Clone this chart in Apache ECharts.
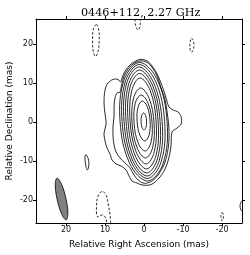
<!DOCTYPE html>
<html>
<head>
<meta charset="utf-8">
<script src="https://cdn.jsdelivr.net/npm/echarts@6/dist/echarts.min.js"></script>
<style>html,body{margin:0;padding:0;background:#fff}#c{width:250px;height:255px}</style>
</head>
<body>
<div id="c"></div>
<script>
// Axis ranges (mas) and tick labels
const xRange = [-25.1, 27.7];
const yRange = [-25.9, 26.4];
const xTicks = [-20, -10, 0, 10, 20];
const yTicks = [-20, -10, 0, 10, 20];

// Closed contour paths in (Relative RA, Relative Dec) mas
const ring1 = [[0.13,2.31],[-0.39,1.67],[-0.64,0.13],[-0.48,-1.41],[0.0,-2.05],[0.52,-1.41],[0.77,0.13],[0.61,1.67]];
const ring2 = [[0.45,5.38],[-0.83,3.88],[-1.54,0.26],[-1.28,-3.37],[-0.2,-4.87],[1.08,-3.37],[1.79,0.26],[1.53,3.88]];
const ring3 = [[0.77,6.92],[-1.02,4.82],[-2.05,-0.26],[-1.74,-5.34],[-0.26,-7.44],[1.53,-5.34],[2.56,-0.26],[2.25,4.82]];
const ring4 = [[0.9,8.72],[-1.28,6.09],[-2.56,-0.26],[-2.18,-6.6],[-0.38,-9.23],[1.8,-6.6],[3.08,-0.26],[2.7,6.09]];
const ring5 = [[1.03,11.28],[-1.57,8.05],[-3.08,0.26],[-2.65,-7.54],[-0.52,-10.77],[2.08,-7.54],[3.59,0.26],[3.16,8.05]];
const ring6 = [[1.16,12.44],[-1.83,8.86],[-3.59,0.2],[-3.1,-8.47],[-0.64,-12.05],[2.34,-8.47],[4.1,0.2],[3.62,8.86]];
const ring7 = [[1.22,13.33],[-2.14,9.46],[-4.1,0.13],[-3.5,-9.21],[-0.7,-13.08],[2.66,-9.21],[4.62,0.13],[4.02,9.46]];
const ring8 = [[1.29,14.1],[-2.47,10.0],[-4.62,0.13],[-3.93,-9.76],[-0.78,-13.85],[2.98,-9.76],[5.13,0.13],[4.44,10.0]];
const ring9 = [[1.22,14.74],[-2.93,10.46],[-5.26,0.13],[-4.39,-10.2],[-0.84,-14.49],[3.31,-10.2],[5.64,0.13],[4.77,10.46]];
const ring10 = [[1.16,15.26],[-3.4,10.81],[-5.9,0.07],[-4.87,-10.68],[-0.9,-15.13],[3.66,-10.68],[6.15,0.07],[5.12,10.81]];
const contourB = [[1.03,15.64],[-0.77,15.26],[-2.05,13.97],[-3.33,11.79],[-4.36,8.72],[-5.4,5.64],[-5.9,2.56],[-6.28,-0.51],[-6.41,-3.59],[-6.15,-6.92],[-5.38,-10.26],[-4.1,-12.82],[-2.56,-14.74],[-1.03,-15.59],[0.26,-15.64],[1.54,-14.87],[2.56,-13.59],[3.59,-11.79],[4.87,-10.51],[6.15,-9.23],[7.18,-7.69],[7.69,-5.9],[7.95,-3.59],[7.95,-1.03],[7.69,1.54],[7.69,4.1],[7.44,6.15],[6.92,7.44],[6.15,7.69],[5.77,9.49],[5.13,11.79],[4.1,13.59],[2.82,14.87]];
const contourA = [[1.03,16.03],[-0.77,15.64],[-2.05,14.36],[-3.33,12.31],[-4.62,9.23],[-5.64,6.15],[-6.41,3.85],[-7.44,3.08],[-8.72,2.56],[-9.49,1.28],[-9.49,-0.51],[-8.46,-1.54],[-7.18,-2.56],[-6.92,-5.9],[-6.41,-8.97],[-5.38,-12.05],[-3.85,-14.36],[-1.79,-16.03],[0.51,-16.15],[1.79,-15.64],[3.08,-15.13],[3.85,-13.85],[4.62,-12.31],[5.9,-11.28],[7.18,-10.77],[8.21,-9.74],[8.72,-8.21],[9.49,-6.67],[10.0,-4.87],[10.26,-2.82],[9.74,-0.51],[10.0,2.05],[10.26,4.87],[10.0,8.21],[9.23,10.0],[7.95,10.9],[6.67,10.9],[6.03,10.26],[5.64,11.28],[4.87,13.08],[3.59,14.62],[2.56,15.38]];
const blobLeft = [[14.9,-8.4],[14.35,-9.3],[14.15,-10.6],[14.3,-11.9],[14.55,-12.3],[14.9,-11.4],[15.1,-10.0],[15.15,-8.9]];
const neg1 = [[12.2,25.0],[11.6,23.5],[11.5,21],[11.7,18.5],[12.4,16.8],[13.0,18],[13.2,21],[13.0,23.8]];
const neg3 = [[-12.2,21.5],[-12.6,20.8],[-12.8,19.6],[-12.5,18.3],[-12.2,17.9],[-11.8,18.6],[-11.75,19.8],[-11.9,21]];
const neg5 = [[-20.0,-23.2],[-20.35,-23.8],[-20.3,-24.6],[-20.0,-25.4],[-19.75,-24.6],[-19.7,-23.8]];
// Open contour pieces that run into the frame (visible parts only)
const edgeRight = [[-25.1,-20.2],[-24.75,-20.8],[-24.6,-21.5],[-24.75,-22.4],[-25.1,-22.9]];
const neg2 = [[2.35,26.4],[2.25,25.2],[1.9,24.0],[1.5,23.6],[1.1,24.3],[0.95,25.5],[1.0,26.4]];
const neg4 = [[8.55,-25.9],[8.72,-23.85],[9.15,-21.28],[9.74,-18.7],[10.77,-17.8],[11.8,-19.0],[12.18,-21.28],[11.97,-24.3],[10.85,-23.85],[10.0,-24.3],[9.56,-25.9]];
// Restoring beam outline
const beam = [[22.3,-14.4],[21.15,-15.97],[20.0,-19.75],[19.53,-23.53],[20.0,-25.1],[21.15,-23.53],[22.3,-19.75],[22.77,-15.97]];

const positiveClosed = [ring1, ring2, ring3, ring4, ring5, ring6, ring7, ring8, ring9, ring10, contourB, contourA, blobLeft];
const negativeClosed = [neg1, neg3, neg5];

function contourSeries(pts, dashed, closed, fill) {
  return {
    type: 'custom', coordinateSystem: 'cartesian2d', xAxisIndex: 0, yAxisIndex: 0,
    silent: true, animation: false,
    data: pts, encode: { x: 0, y: 1 },
    renderItem: function (params, api) {
      if (params.dataIndex !== 0) return null;
      return {
        type: closed ? 'polygon' : 'polyline',
        shape: { points: pts.map(p => api.coord(p)), smooth: 0.37 },
        style: { fill: fill || 'none', stroke: '#111', lineWidth: 0.9, lineDash: dashed ? [2.5, 1.8] : null }
      };
    }
  };
}

const series = [];
positiveClosed.forEach(p => series.push(contourSeries(p, false, true)));
negativeClosed.forEach(p => series.push(contourSeries(p, true, true)));
series.push(contourSeries(edgeRight, false, false));
series.push(contourSeries(neg2, true, false));
series.push(contourSeries(neg4, true, false));
series.push(contourSeries(beam, false, true, '#808080'));

const font = 'DejaVu Sans';
function axis(pos, ticks, range, withLabel, name, gap, inverse) {
  return {
    type: 'value', position: pos, min: range[0], max: range[1], inverse: inverse,
    name: withLabel ? name : '', nameLocation: 'middle', nameGap: gap, nameMoveOverlap: false,
    nameTextStyle: { fontFamily: font, fontSize: 9, color: '#000' },
    axisLine: { show: true, onZero: false, lineStyle: { color: '#000', width: 1 } },
    axisTick: { show: true, inside: false, length: 3, customValues: ticks, lineStyle: { color: '#000', width: 1 } },
    axisLabel: { show: withLabel, customValues: ticks, fontFamily: font, fontSize: 8, color: '#111', margin: 3, formatter: v => String(v) },
    splitLine: { show: false }
  };
}

const chart = echarts.init(document.getElementById('c'), null, { renderer: 'canvas' });
chart.setOption({
  animation: false,
  backgroundColor: '#fff',
  title: { text: '0446+112, 2.27 GHz', left: 76, top: 3, textStyle: { fontFamily: 'DejaVu Serif', fontSize: 11.2, fontWeight: 'normal', color: '#000' } },
  grid: { left: 36, right: 8, top: 19, bottom: 32, containLabel: false, outerBoundsMode: 'none' },
  xAxis: [
    axis('bottom', xTicks, xRange, true, 'Relative Right Ascension (mas)', 17, true),
    axis('top', xTicks, xRange, false, '', 0, true)
  ],
  yAxis: [
    axis('left', yTicks, yRange, true, 'Relative Declination (mas)', 22, false),
    axis('right', yTicks, yRange, false, '', 0, false)
  ],
  series: series
});
</script>
</body>
</html>
